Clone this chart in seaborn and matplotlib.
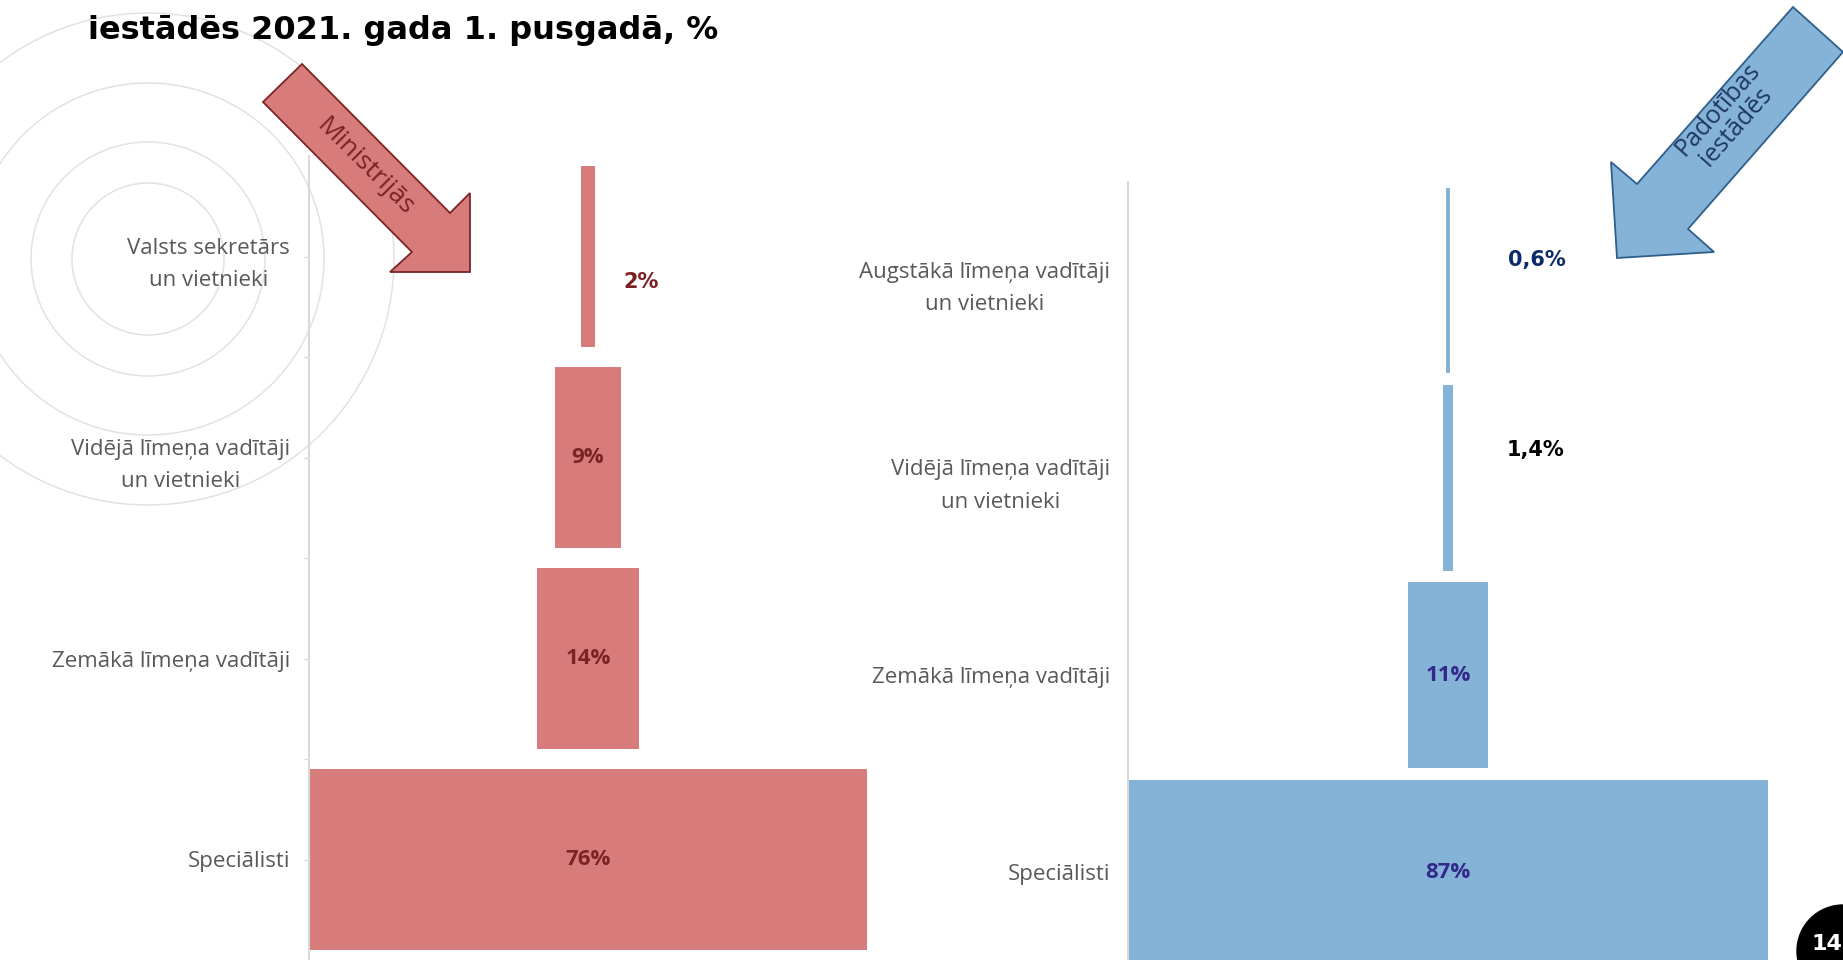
import numpy as np
import pandas as pd
import matplotlib
matplotlib.use('Agg')
from matplotlib import pyplot as plt
from matplotlib.patches import Circle, Polygon
import seaborn as sns

W, H = 1843, 960

# data
levels_min = ['Valsts sekretārs\nun vietnieki', 'Vidējā līmeņa vadītāji\nun vietnieki',
              'Zemākā līmeņa vadītāji', 'Speciālisti']
share_min = [2, 9, 14, 76]
labels_min = ['2%', '9%', '14%', '76%']

levels_sub = ['Augstākā līmeņa vadītāji\nun vietnieki', 'Vidējā līmeņa vadītāji\nun vietnieki',
              'Zemākā līmeņa vadītāji', 'Speciālisti']
share_sub = [0.6, 1.4, 11, 87]
labels_sub = ['0,6%', '1,4%', '11%', '87%']

title = 'iestādēs 2021. gada 1. pusgadā, %'

sns.set_style('white')
plt.rcParams['font.family'] = ['Open Sans', 'DejaVu Sans']

fig = plt.figure(figsize=(W / 100, H / 100), dpi=100)


def px_box(x0, y0, x1, y1):
    # pixel box (top-left origin) -> figure fraction rect
    return [x0 / W, 1 - y1 / H, (x1 - x0) / W, (y1 - y0) / H]


# background: decorative circles
bg = fig.add_axes([0, 0, 1, 1], zorder=0)
bg.set_xlim(0, W)
bg.set_ylim(H, 0)
bg.axis('off')
for r in [76, 117, 176, 246]:
    bg.add_patch(Circle((148, 259), r, fill=False, ec='#e2e2e2', lw=1.1))


def funnel(box, levels, share, labels, color, width, in_color, out_labels, ticks, pad):
    ax = fig.add_axes(px_box(*box), zorder=2)
    ax.patch.set_alpha(0)
    df = pd.DataFrame({'level': levels, 'share': share})
    sns.barplot(data=df, x='share', y='level', orient='h', color=color,
                saturation=1, width=width, linewidth=0, ax=ax)
    # centre the bars -> funnel
    for p in ax.patches:
        p.set_x(-p.get_width() / 2)
    half = max(share) / 2
    ax.set_xlim(-half, half)
    ax.set_ylim(3.5, -0.5)
    ax.set_xlabel('')
    ax.set_ylabel('')
    ax.set_xticks([])
    ax.set_yticks(range(len(levels)), levels, multialignment='center',
                  fontsize=16, color='#595959', linespacing=1.7)
    if ticks:
        ax.set_yticks([0.5, 1.5, 2.5], minor=True)
        ax.tick_params(axis='y', which='both', length=3.6, width=1,
                       color='#d9d9d9', left=True, pad=pad)
    else:
        ax.tick_params(axis='y', length=0, pad=pad)
    for s in ['top', 'right', 'bottom']:
        ax.spines[s].set_visible(False)
    ax.spines['left'].set_color('#d9d9d9')
    ax.spines['left'].set_linewidth(1.5)

    for i, (v, lbl) in enumerate(zip(share, labels)):
        if i in out_labels:
            dx, dy, c = out_labels[i]
            ax.annotate(lbl, xy=(v / 2, i), xytext=(dx, dy), textcoords='offset pixels',
                        ha='left', va='center', fontsize=15, fontweight='bold',
                        color=c, family='DejaVu Sans')
        else:
            ax.text(0, i, lbl, ha='center', va='center', fontsize=16,
                    fontweight='bold', color=in_color)
    return ax


ax1 = funnel((309, 156, 867, 960), levels_min, share_min, labels_min, '#d87c7b', 0.9,
             '#7b2426', {0: (28, -26, '#7b2021')}, True, 10)
ax2 = funnel((1128, 182, 1768, 971), levels_sub, share_sub, labels_sub, '#85b3d7', 0.94,
             '#33298a', {0: (58, 21, '#0d2a6b'), 1: (54, 28, '#000000')}, False, 13)

# title (first line is cut off at the top of the slide)
fig.text(88 / W, 1 - 39 / H, title, fontsize=23, fontweight='bold',
         family='DejaVu Sans', va='baseline', color='black')

# foreground: arrows and page number
fg = fig.add_axes([0, 0, 1, 1], zorder=5)
fg.set_xlim(0, W)
fg.set_ylim(H, 0)
fg.axis('off')
fg.patch.set_alpha(0)

red_arrow = [(302, 64), (450, 213), (470, 193), (470, 272), (390, 272), (412, 252), (263, 102)]
fg.add_patch(Polygon(red_arrow, closed=True, fc='#d87c7b', ec='#7b2426', lw=1.3))
fg.text(365, 167, 'Ministrijās', rotation=-45, rotation_mode='anchor', ha='center',
        va='center', fontsize=19, color='#7b2426')

blue_arrow = [(1793, 7), (1637, 184), (1611, 162), (1617, 258), (1714, 252), (1688, 229), (1843, 52)]
fg.add_patch(Polygon(blue_arrow, closed=True, fc='#85b3d7', ec='#2e5f8c', lw=1.3))
fg.text(1727, 118, 'Padotības\niestādēs', rotation=48.6, rotation_mode='anchor',
        ha='center', va='center', multialignment='center', fontsize=18,
        color='#1f3864', linespacing=1.0)

fg.add_patch(Circle((1843, 951), 46, color='black'))
fg.text(1842, 944, '14', ha='right', va='center', fontsize=16, fontweight='bold',
        color='white', family='DejaVu Sans')

fig.savefig('out.png', dpi=100)
